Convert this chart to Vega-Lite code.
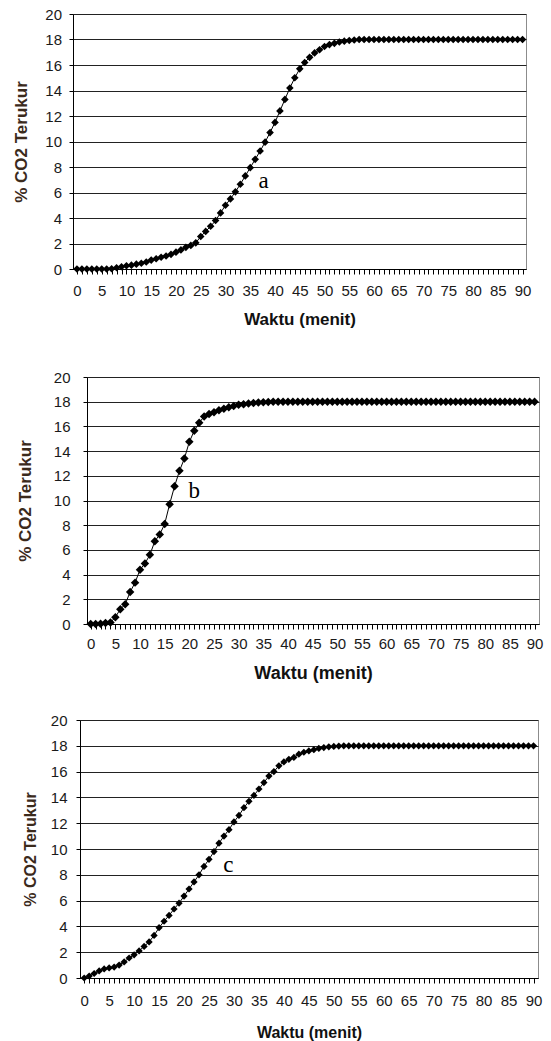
{
  "$schema": "https://vega.github.io/schema/vega-lite/v6.json",
  "padding": {"left": 0, "top": 6, "right": 0, "bottom": 0},
  "config": {
    "font": "Liberation Sans",
    "view": {"stroke": null},
    "axis": {
      "domainColor": "#000000",
      "tickColor": "#000000",
      "labelColor": "#1a1a1a",
      "labelFont": "Liberation Sans",
      "titleFont": "Liberation Sans",
      "titleFontWeight": "bold",
      "labelFontSize": 15,
      "labelFlush": false,
      "labelOverlap": false,
      "labelBound": false,
      "gridColor": "#222222",
      "gridOpacity": 1,
      "gridWidth": 1
    }
  },
  "datasets": {
    "a": [
      {"t":0,"v":0},{"t":1,"v":0},{"t":2,"v":0},{"t":3,"v":0},{"t":4,"v":0},{"t":5,"v":0},{"t":6,"v":0},{"t":7,"v":0.02},{"t":8,"v":0.1},{"t":9,"v":0.18},
      {"t":10,"v":0.25},{"t":11,"v":0.3},{"t":12,"v":0.38},{"t":13,"v":0.45},{"t":14,"v":0.55},{"t":15,"v":0.7},{"t":16,"v":0.8},{"t":17,"v":0.92},{"t":18,"v":1.02},{"t":19,"v":1.15},
      {"t":20,"v":1.32},{"t":21,"v":1.5},{"t":22,"v":1.7},{"t":23,"v":1.85},{"t":24,"v":2.05},{"t":25,"v":2.55},{"t":26,"v":2.95},{"t":27,"v":3.35},{"t":28,"v":3.8},{"t":29,"v":4.4},
      {"t":30,"v":5.0},{"t":31,"v":5.5},{"t":32,"v":6.05},{"t":33,"v":6.65},{"t":34,"v":7.3},{"t":35,"v":7.95},{"t":36,"v":8.6},{"t":37,"v":9.25},{"t":38,"v":9.95},{"t":39,"v":10.7},
      {"t":40,"v":11.5},{"t":41,"v":12.4},{"t":42,"v":13.3},{"t":43,"v":14.2},{"t":44,"v":15.0},{"t":45,"v":15.7},{"t":46,"v":16.2},{"t":47,"v":16.6},{"t":48,"v":16.95},{"t":49,"v":17.2},
      {"t":50,"v":17.45},{"t":51,"v":17.6},{"t":52,"v":17.7},{"t":53,"v":17.8},{"t":54,"v":17.87},{"t":55,"v":17.92},{"t":56,"v":17.96},{"t":57,"v":18},{"t":58,"v":18},{"t":59,"v":18},
      {"t":60,"v":18},{"t":61,"v":18},{"t":62,"v":18},{"t":63,"v":18},{"t":64,"v":18},{"t":65,"v":18},{"t":66,"v":18},{"t":67,"v":18},{"t":68,"v":18},{"t":69,"v":18},
      {"t":70,"v":18},{"t":71,"v":18},{"t":72,"v":18},{"t":73,"v":18},{"t":74,"v":18},{"t":75,"v":18},{"t":76,"v":18},{"t":77,"v":18},{"t":78,"v":18},{"t":79,"v":18},
      {"t":80,"v":18},{"t":81,"v":18},{"t":82,"v":18},{"t":83,"v":18},{"t":84,"v":18},{"t":85,"v":18},{"t":86,"v":18},{"t":87,"v":18},{"t":88,"v":18},{"t":89,"v":18},{"t":90,"v":18}
    ],
    "b": [
      {"t":0,"v":0},{"t":1,"v":0},{"t":2,"v":0.02},{"t":3,"v":0.08},{"t":4,"v":0.12},{"t":5,"v":0.55},{"t":6,"v":1.2},{"t":7,"v":1.6},{"t":8,"v":2.6},{"t":9,"v":3.35},
      {"t":10,"v":4.4},{"t":11,"v":4.9},{"t":12,"v":5.6},{"t":13,"v":6.7},{"t":14,"v":7.25},{"t":15,"v":8.1},{"t":16,"v":9.7},{"t":17,"v":11.15},{"t":18,"v":12.4},{"t":19,"v":13.4},
      {"t":20,"v":14.75},{"t":21,"v":15.65},{"t":22,"v":16.3},{"t":23,"v":16.8},{"t":24,"v":17.0},{"t":25,"v":17.15},{"t":26,"v":17.3},{"t":27,"v":17.42},{"t":28,"v":17.55},{"t":29,"v":17.65},
      {"t":30,"v":17.75},{"t":31,"v":17.8},{"t":32,"v":17.85},{"t":33,"v":17.9},{"t":34,"v":17.93},{"t":35,"v":17.96},{"t":36,"v":17.98},{"t":37,"v":18},{"t":38,"v":18},{"t":39,"v":18},
      {"t":40,"v":18},{"t":41,"v":18},{"t":42,"v":18},{"t":43,"v":18},{"t":44,"v":18},{"t":45,"v":18},{"t":46,"v":18},{"t":47,"v":18},{"t":48,"v":18},{"t":49,"v":18},
      {"t":50,"v":18},{"t":51,"v":18},{"t":52,"v":18},{"t":53,"v":18},{"t":54,"v":18},{"t":55,"v":18},{"t":56,"v":18},{"t":57,"v":18},{"t":58,"v":18},{"t":59,"v":18},
      {"t":60,"v":18},{"t":61,"v":18},{"t":62,"v":18},{"t":63,"v":18},{"t":64,"v":18},{"t":65,"v":18},{"t":66,"v":18},{"t":67,"v":18},{"t":68,"v":18},{"t":69,"v":18},
      {"t":70,"v":18},{"t":71,"v":18},{"t":72,"v":18},{"t":73,"v":18},{"t":74,"v":18},{"t":75,"v":18},{"t":76,"v":18},{"t":77,"v":18},{"t":78,"v":18},{"t":79,"v":18},
      {"t":80,"v":18},{"t":81,"v":18},{"t":82,"v":18},{"t":83,"v":18},{"t":84,"v":18},{"t":85,"v":18},{"t":86,"v":18},{"t":87,"v":18},{"t":88,"v":18},{"t":89,"v":18},{"t":90,"v":18}
    ],
    "c": [
      {"t":0,"v":0},{"t":1,"v":0.15},{"t":2,"v":0.35},{"t":3,"v":0.55},{"t":4,"v":0.7},{"t":5,"v":0.78},{"t":6,"v":0.85},{"t":7,"v":1.0},{"t":8,"v":1.25},{"t":9,"v":1.55},
      {"t":10,"v":1.8},{"t":11,"v":2.1},{"t":12,"v":2.45},{"t":13,"v":2.8},{"t":14,"v":3.3},{"t":15,"v":3.9},{"t":16,"v":4.4},{"t":17,"v":4.85},{"t":18,"v":5.35},{"t":19,"v":5.8},
      {"t":20,"v":6.35},{"t":21,"v":6.9},{"t":22,"v":7.45},{"t":23,"v":8.0},{"t":24,"v":8.65},{"t":25,"v":9.2},{"t":26,"v":9.8},{"t":27,"v":10.45},{"t":28,"v":11.0},{"t":29,"v":11.5},
      {"t":30,"v":12.1},{"t":31,"v":12.6},{"t":32,"v":13.2},{"t":33,"v":13.7},{"t":34,"v":14.15},{"t":35,"v":14.65},{"t":36,"v":15.15},{"t":37,"v":15.65},{"t":38,"v":16.0},{"t":39,"v":16.45},
      {"t":40,"v":16.75},{"t":41,"v":16.95},{"t":42,"v":17.1},{"t":43,"v":17.35},{"t":44,"v":17.5},{"t":45,"v":17.6},{"t":46,"v":17.7},{"t":47,"v":17.8},{"t":48,"v":17.86},{"t":49,"v":17.92},
      {"t":50,"v":17.95},{"t":51,"v":17.98},{"t":52,"v":18},{"t":53,"v":18},{"t":54,"v":18},{"t":55,"v":18},{"t":56,"v":18},{"t":57,"v":18},{"t":58,"v":18},{"t":59,"v":18},
      {"t":60,"v":18},{"t":61,"v":18},{"t":62,"v":18},{"t":63,"v":18},{"t":64,"v":18},{"t":65,"v":18},{"t":66,"v":18},{"t":67,"v":18},{"t":68,"v":18},{"t":69,"v":18},
      {"t":70,"v":18},{"t":71,"v":18},{"t":72,"v":18},{"t":73,"v":18},{"t":74,"v":18},{"t":75,"v":18},{"t":76,"v":18},{"t":77,"v":18},{"t":78,"v":18},{"t":79,"v":18},
      {"t":80,"v":18},{"t":81,"v":18},{"t":82,"v":18},{"t":83,"v":18},{"t":84,"v":18},{"t":85,"v":18},{"t":86,"v":18},{"t":87,"v":18},{"t":88,"v":18},{"t":89,"v":18},{"t":90,"v":18}
    ],
    "la": [{"t":37.7,"v":6.9,"label":"a"}],
    "lb": [{"t":21,"v":10.8,"label":"b"}],
    "lc": [{"t":28.9,"v":8.75,"label":"c"}]
  },
  "spacing": 41,
  "vconcat": [
    {
      "spacing": 0,
      "hconcat": [
        {"width": 11, "height": 1, "data": {"values": [{}]}, "mark": {"type": "point", "opacity": 0}},
        {
          "width": 453, "height": 255,
          "view": {"stroke": "#8c8c8c"},
          "encoding": {
            "x": {"field": "t", "type": "quantitative",
              "scale": {"domain": [-0.8, 90.7], "nice": false, "zero": false},
              "axis": {"values": [0,1,2,3,4,5,6,7,8,9,10,11,12,13,14,15,16,17,18,19,20,21,22,23,24,25,26,27,28,29,30,31,32,33,34,35,36,37,38,39,40,41,42,43,44,45,46,47,48,49,50,51,52,53,54,55,56,57,58,59,60,61,62,63,64,65,66,67,68,69,70,71,72,73,74,75,76,77,78,79,80,81,82,83,84,85,86,87,88,89,90],
                "labelExpr": "datum.value % 5 === 0 ? datum.label : ''",
                "title": "Waktu (menit)", "grid": false, "tickSize": 5, "labelPadding": 9.5, "titlePadding": 13, "titleFontSize": 17, "titleColor": "#111111"}},
            "y": {"field": "v", "type": "quantitative",
              "scale": {"domain": [0, 20], "nice": false},
              "axis": {"values": [0,2,4,6,8,10,12,14,16,18,20], "title": "% CO2 Terukur", "grid": true, "tickSize": 4, "labelPadding": 7.5, "titlePadding": 14.8, "titleFontSize": 17, "titleColor": "#3b2a1c"}}
          },
          "layer": [
            {"data": {"name": "a"}, "mark": {"type": "line", "color": "#000000", "strokeWidth": 1}},
            {"data": {"name": "a"}, "mark": {"type": "point", "shape": "diamond", "filled": true, "color": "#000000", "opacity": 1, "size": 58}},
            {"data": {"name": "la"}, "mark": {"type": "text", "font": "Liberation Serif", "fontSize": 23, "color": "#000000", "align": "center", "baseline": "middle"}, "encoding": {"text": {"field": "label"}}}
          ]
        }
      ]
    },
    {
      "spacing": 29,
      "vconcat": [
        {
          "spacing": 0,
          "hconcat": [
            {"width": 16, "height": 1, "data": {"values": [{}]}, "mark": {"type": "point", "opacity": 0}},
            {
              "width": 452, "height": 247,
              "view": {"stroke": "#8c8c8c"},
              "encoding": {
                "x": {"field": "t", "type": "quantitative",
                  "scale": {"domain": [-0.75, 90.9], "nice": false, "zero": false},
                  "axis": {"values": [0,1,2,3,4,5,6,7,8,9,10,11,12,13,14,15,16,17,18,19,20,21,22,23,24,25,26,27,28,29,30,31,32,33,34,35,36,37,38,39,40,41,42,43,44,45,46,47,48,49,50,51,52,53,54,55,56,57,58,59,60,61,62,63,64,65,66,67,68,69,70,71,72,73,74,75,76,77,78,79,80,81,82,83,84,85,86,87,88,89,90],
                    "labelExpr": "datum.value % 5 === 0 ? datum.label : ''",
                    "title": "Waktu (menit)", "grid": false, "tickSize": 5, "labelPadding": 7.5, "titlePadding": 13, "titleFontSize": 18, "titleColor": "#111111"}},
                "y": {"field": "v", "type": "quantitative",
                  "scale": {"domain": [0, 20], "nice": false},
                  "axis": {"values": [0,2,4,6,8,10,12,14,16,18,20], "title": "% CO2 Terukur", "grid": true, "tickSize": 4, "labelPadding": 13, "titlePadding": 18.8, "titleFontSize": 17, "titleColor": "#3b2a1c"}}
              },
              "layer": [
                {"data": {"name": "b"}, "mark": {"type": "line", "color": "#000000", "strokeWidth": 1}},
                {"data": {"name": "b"}, "mark": {"type": "point", "shape": "diamond", "filled": true, "color": "#000000", "opacity": 1, "size": 72}},
                {"data": {"name": "lb"}, "mark": {"type": "text", "font": "Liberation Serif", "fontSize": 23, "color": "#000000", "align": "center", "baseline": "middle"}, "encoding": {"text": {"field": "label"}}}
              ]
            }
          ]
        },
        {
          "spacing": 0,
          "hconcat": [
            {"width": 22, "height": 1, "data": {"values": [{}]}, "mark": {"type": "point", "opacity": 0}},
            {
              "width": 458, "height": 258,
              "view": {"stroke": "#8c8c8c"},
              "encoding": {
                "x": {"field": "t", "type": "quantitative",
                  "scale": {"domain": [-0.84, 90.9], "nice": false, "zero": false},
                  "axis": {"values": [0,1,2,3,4,5,6,7,8,9,10,11,12,13,14,15,16,17,18,19,20,21,22,23,24,25,26,27,28,29,30,31,32,33,34,35,36,37,38,39,40,41,42,43,44,45,46,47,48,49,50,51,52,53,54,55,56,57,58,59,60,61,62,63,64,65,66,67,68,69,70,71,72,73,74,75,76,77,78,79,80,81,82,83,84,85,86,87,88,89,90],
                    "labelExpr": "datum.value % 5 === 0 ? datum.label : ''",
                    "title": "Waktu (menit)", "grid": false, "tickSize": 5, "labelPadding": 10.5, "titlePadding": 16, "titleFontSize": 16, "titleColor": "#111111"}},
                "y": {"field": "v", "type": "quantitative",
                  "scale": {"domain": [0, 20], "nice": false},
                  "axis": {"values": [0,2,4,6,8,10,12,14,16,18,20], "title": "% CO2 Terukur", "grid": true, "tickSize": 4, "labelPadding": 9, "titlePadding": 11.8, "titleFontSize": 16, "titleColor": "#3b2a1c"}}
              },
              "layer": [
                {"data": {"name": "c"}, "mark": {"type": "line", "color": "#000000", "strokeWidth": 1}},
                {"data": {"name": "c"}, "mark": {"type": "point", "shape": "diamond", "filled": true, "color": "#000000", "opacity": 1, "size": 52}},
                {"data": {"name": "lc"}, "mark": {"type": "text", "font": "Liberation Serif", "fontSize": 23, "color": "#000000", "align": "center", "baseline": "middle"}, "encoding": {"text": {"field": "label"}}}
              ]
            }
          ]
        }
      ]
    }
  ]
}
